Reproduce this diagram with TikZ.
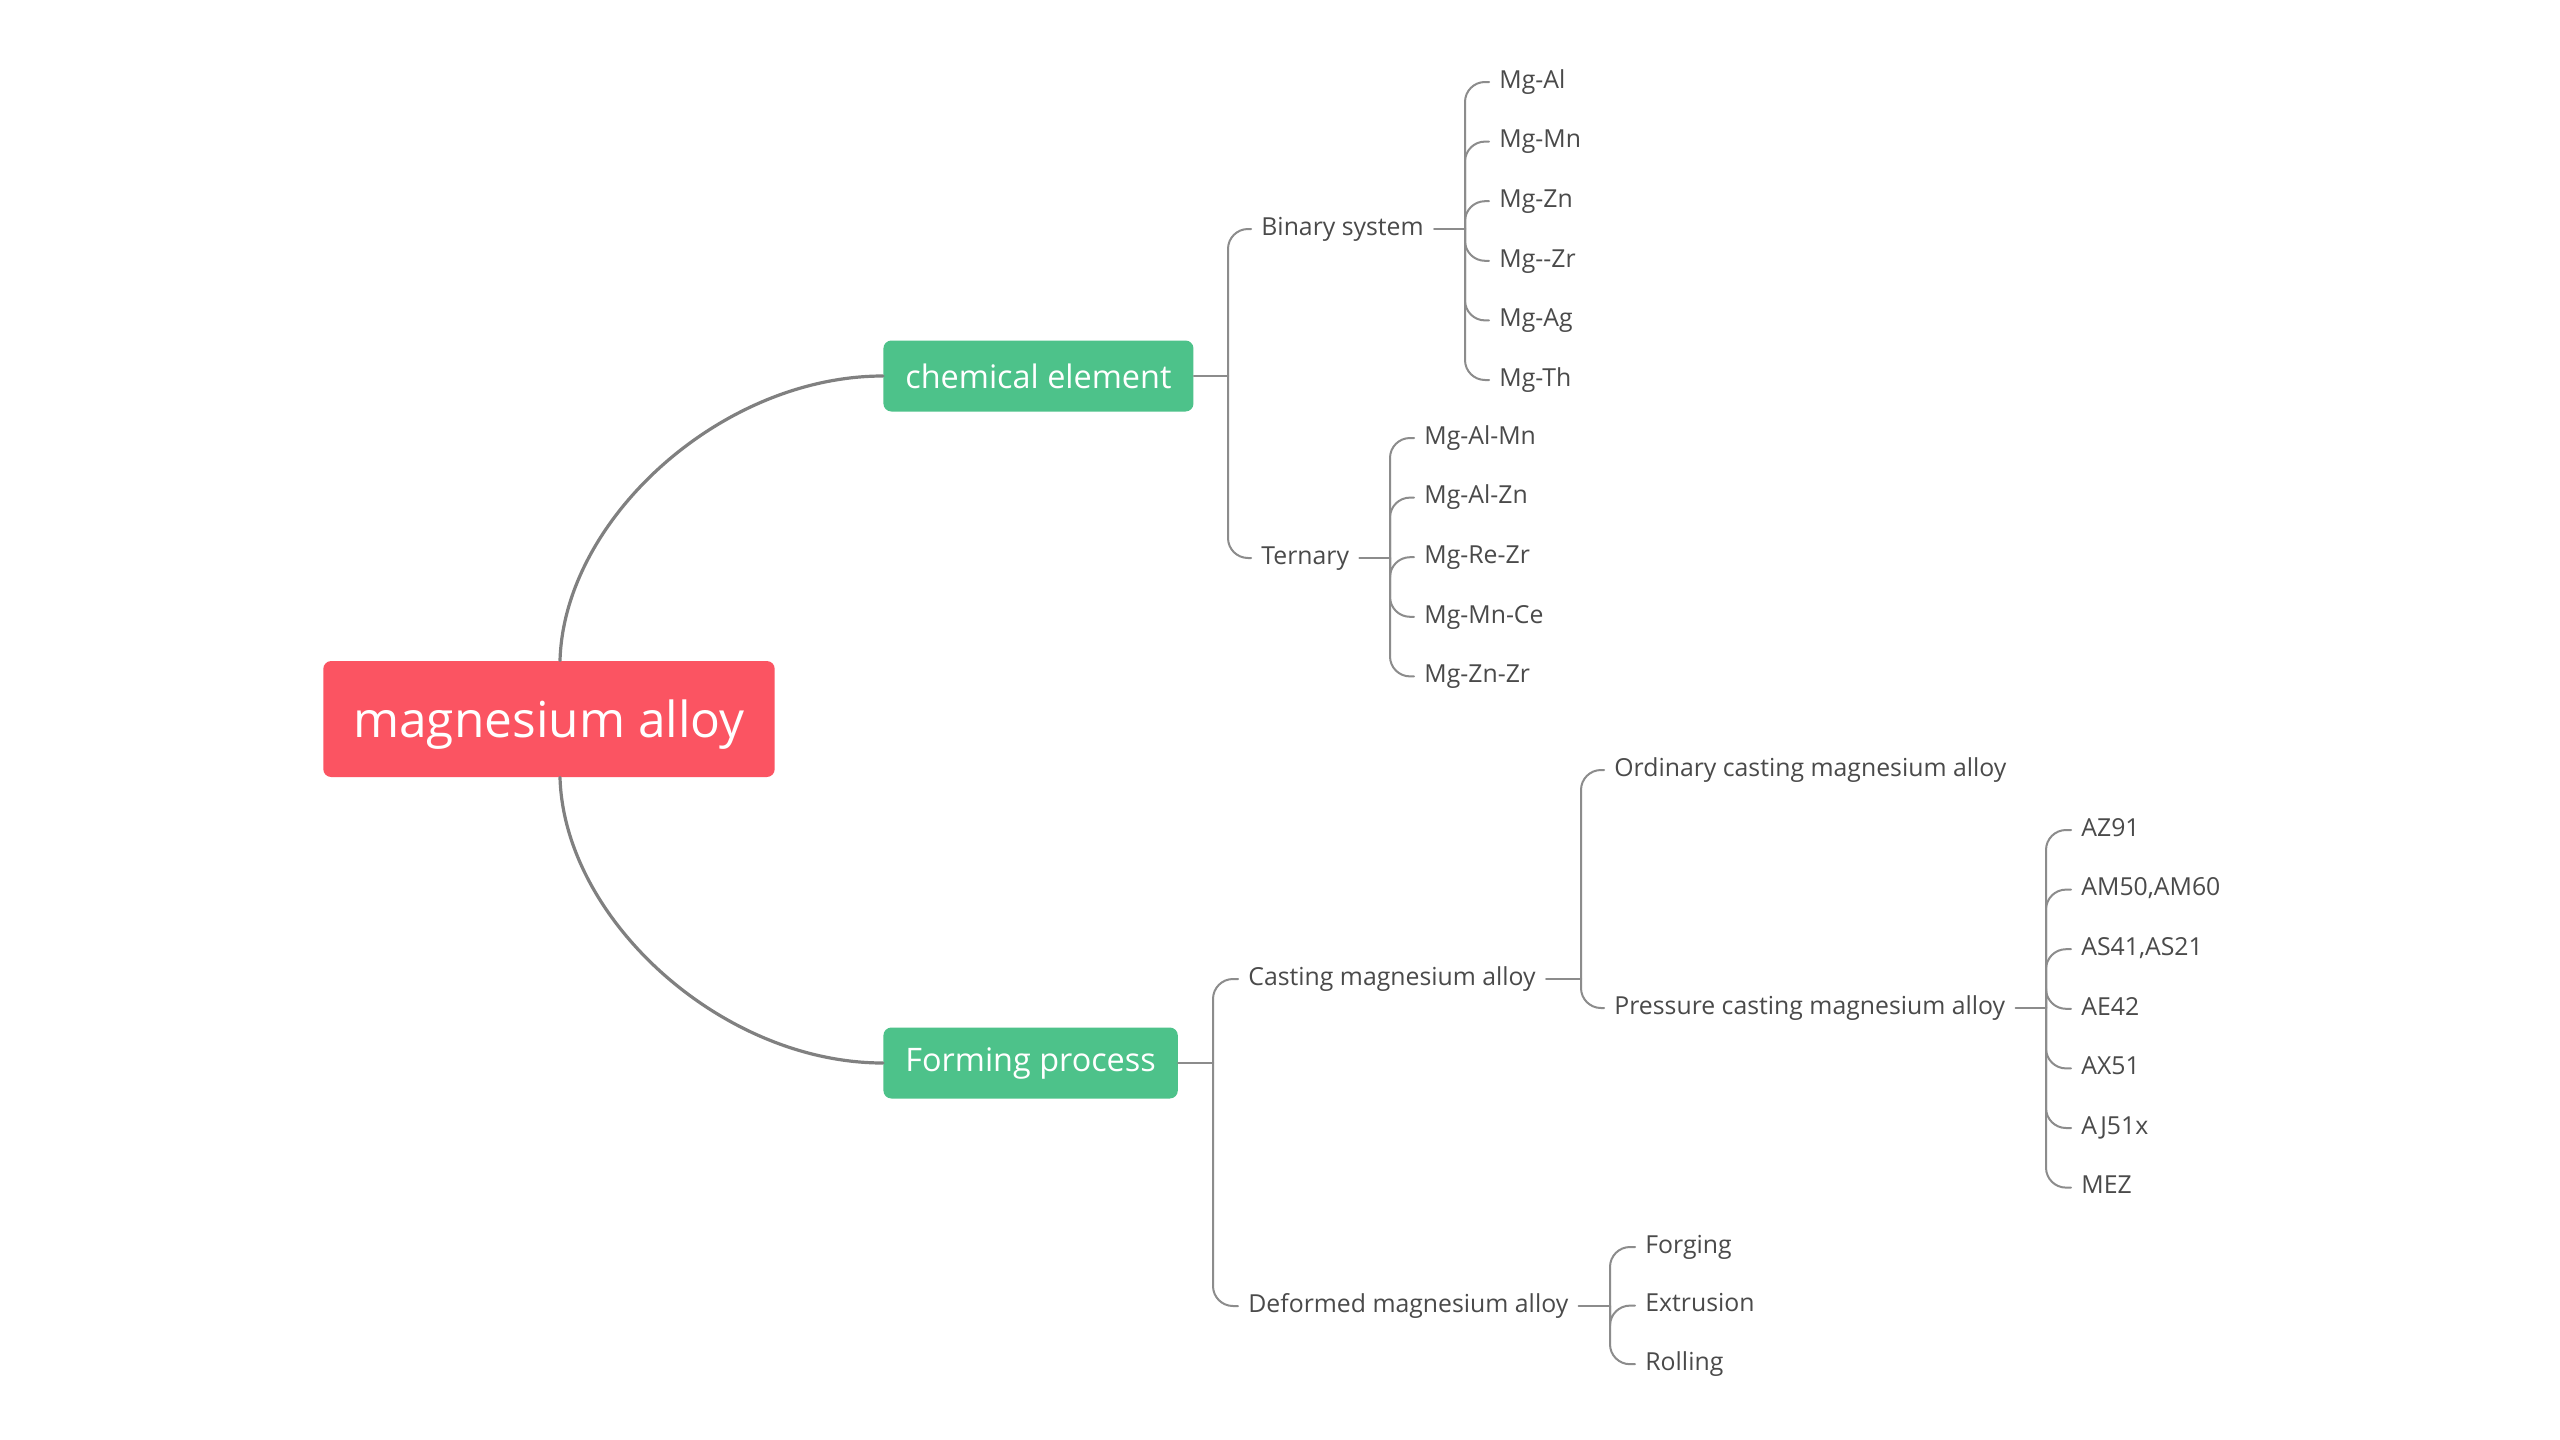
\documentclass[tikz,border=0pt]{standalone}
\usepackage{fontspec}
\setmainfont{Open Sans}
\usetikzlibrary{positioning}
\definecolor{rootred}{HTML}{FB5462}
\definecolor{topicgreen}{HTML}{4DC28A}
\definecolor{linegray}{HTML}{8C8C8C}
\definecolor{trunkgray}{HTML}{808080}
\definecolor{textgray}{HTML}{4A4A4A}

\begin{document}
\begin{tikzpicture}[x=0.5pt, y=-0.5pt, node distance=29.8pt, line cap=round]
	  \tikzstyle{root}=[rounded corners=4pt, fill=rootred, text=white, minimum height=58pt, inner xsep=15pt, text depth=0pt, font=\fontsize{24.8}{28}\selectfont]
	  \tikzstyle{topic}=[rounded corners=4pt, fill=topicgreen, text=white, minimum height=35.5pt, inner xsep=11pt, font=\fontsize{16.2}{19}\selectfont]
	  \tikzstyle{item}=[text=textgray, inner xsep=5pt, inner ysep=0pt, text height=8.9pt, text depth=2.7pt, font=\fontsize{12.4}{15}\selectfont]
	  \tikzstyle{trunk}=[draw=trunkgray, line width=1.6pt]
	  \tikzstyle{branch}=[draw=linegray, line width=1pt, rounded corners=10pt]

	  \fill[white] (0,0) rectangle (2560,1440);
	  \useasboundingbox (0,0) rectangle (2560,1440);

	  \node[root]                 (mg)   at (549,719)  {magnesium alloy};
	  \node[topic, anchor=west]   (chem) at (883,376)  {chemical element};
	  \node[topic, anchor=west]   (form) at (883,1063) {Forming process};

	  % chemical element
	  \node[item, anchor=west]    (bin)  at (1251,229) {Binary system};
	  \node[item, anchor=west]    (tern) at (1251,558) {Ternary};

	  \node[item, anchor=west]    (b1) at (1489,82) {Mg-Al};
	  \node[item, below=of b1.west, anchor=west] (b2) {Mg-Mn};
	  \node[item, below=of b2.west, anchor=west] (b3) {Mg-Zn};
	  \node[item, below=of b3.west, anchor=west] (b4) {Mg-{}-Zr};
	  \node[item, below=of b4.west, anchor=west] (b5) {Mg-Ag};
	  \node[item, below=of b5.west, anchor=west] (b6) {Mg-Th};

	  \node[item, anchor=west]    (t1) at (1414,438) {Mg-Al-Mn};
	  \node[item, below=of t1.west, anchor=west] (t2) {Mg-Al-Zn};
	  \node[item, below=of t2.west, anchor=west] (t3) {Mg-Re-Zr};
	  \node[item, below=of t3.west, anchor=west] (t4) {Mg-Mn-Ce};
	  \node[item, below=of t4.west, anchor=west] (t5) {Mg-Zn-Zr};

	  % forming process
	  \node[item, anchor=west]    (cast)   at (1238,979)  {Casting magnesium alloy};
	  \node[item, anchor=west]    (deform) at (1238,1306) {Deformed magnesium alloy};
	  \node[item, anchor=west]    (ord)    at (1604,770)  {Ordinary casting magnesium alloy};
	  \node[item, anchor=west]    (press)  at (1604,1008) {Pressure casting magnesium alloy};

	  \node[item, anchor=west]    (p1) at (2071,830) {AZ91};
	  \node[item, below=of p1.west, anchor=west] (p2) {AM50,AM60};
	  \node[item, below=of p2.west, anchor=west] (p3) {AS41,AS21};
	  \node[item, below=of p3.west, anchor=west] (p4) {AE42};
	  \node[item, below=of p4.west, anchor=west] (p5) {AX51};
	  \node[item, below=of p5.west, anchor=west] (p6) {AJ51x};
	  \node[item, below=of p6.west, anchor=west] (p7) {MEZ};

	  \node[item, anchor=west]    (d1) at (1635,1247) {Forging};
	  \node[item, below=29.3pt of d1.west, anchor=west] (d2) {Extrusion};
	  \node[item, below=29.3pt of d2.west, anchor=west] (d3) {Rolling};

	  \coordinate (jc)    at (1228,376);
	  \coordinate (jb)    at (1465,229);
	  \coordinate (jt)    at (1390,558);
	  \coordinate (jf)    at (1213,1063);
	  \coordinate (jcast) at (1581,979);
	  \coordinate (jp)    at (2046,1008);
	  \coordinate (jd)    at (1610,1306);

	  \draw[trunk] ([xshift=5.5pt]mg.north) .. controls +(4,-142) and +(-161,0) .. (chem.west);
	  \draw[trunk] ([xshift=5.5pt]mg.south) .. controls +(4,142) and +(-161,0) .. (form.west);

	  \draw[branch] (chem.east) -- (jc);
	  \draw[branch] (jc) |- (bin.west);
	  \draw[branch] (jc) |- (tern.west);
	  \draw[branch] (bin.east) -- (jb);
	  \draw[branch] (jb) |- (b1.west);
	  \draw[branch] (jb) |- (b2.west);
	  \draw[branch] (jb) |- (b3.west);
	  \draw[branch] (jb) |- (b4.west);
	  \draw[branch] (jb) |- (b5.west);
	  \draw[branch] (jb) |- (b6.west);
	  \draw[branch] (tern.east) -- (jt);
	  \draw[branch] (jt) |- (t1.west);
	  \draw[branch] (jt) |- (t2.west);
	  \draw[branch] (jt) |- (t3.west);
	  \draw[branch] (jt) |- (t4.west);
	  \draw[branch] (jt) |- (t5.west);

	  \draw[branch] (form.east) -- (jf);
	  \draw[branch] (jf) |- (cast.west);
	  \draw[branch] (jf) |- (deform.west);
	  \draw[branch] (cast.east) -- (jcast);
	  \draw[branch] (jcast) |- (ord.west);
	  \draw[branch] (jcast) |- (press.west);
	  \draw[branch] (press.east) -- (jp);
	  \draw[branch] (jp) |- (p1.west);
	  \draw[branch] (jp) |- (p2.west);
	  \draw[branch] (jp) |- (p3.west);
	  \draw[branch] (jp) |- (p4.west);
	  \draw[branch] (jp) |- (p5.west);
	  \draw[branch] (jp) |- (p6.west);
	  \draw[branch] (jp) |- (p7.west);
	  \draw[branch] (deform.east) -- (jd);
	  \draw[branch] (jd) |- (d1.west);
	  \draw[branch] (jd) |- (d2.west);
	  \draw[branch] (jd) |- (d3.west);
	\end{tikzpicture}
\end{document}
